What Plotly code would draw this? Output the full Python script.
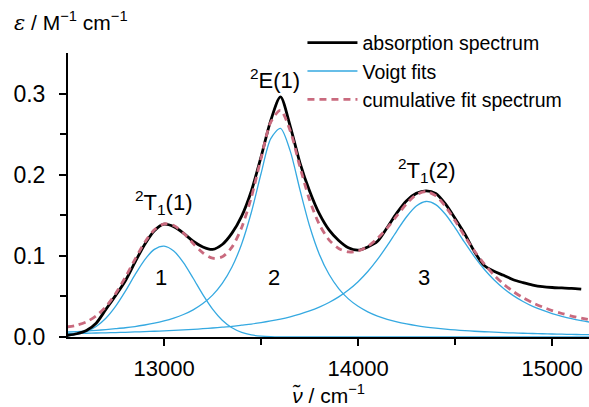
import plotly.graph_objects as go

wavenumber = [12500 + 50 * i for i in range(55)]  # 12500 .. 15200 cm-1
wavenumber_abs = [12500 + 50 * i for i in range(54)]  # 12500 .. 15150 cm-1

absorption = [
    0.002, 0.004, 0.008, 0.017, 0.034, 0.051, 0.069, 0.092, 0.114, 0.131,
    0.139, 0.136, 0.128, 0.118, 0.111, 0.108, 0.114, 0.128, 0.149, 0.180,
    0.222, 0.267, 0.296, 0.260, 0.215, 0.180, 0.152, 0.132, 0.119, 0.110,
    0.107, 0.111, 0.118, 0.135, 0.153, 0.168, 0.177, 0.180, 0.177, 0.164,
    0.146, 0.127, 0.105, 0.088, 0.081, 0.076, 0.0705, 0.067, 0.064, 0.062,
    0.061, 0.0605, 0.060, 0.059,
]

voigt1 = [
    0.0013, 0.0031, 0.0066, 0.0129, 0.0231, 0.0377, 0.0562, 0.0765, 0.0951, 0.1080,
    0.1120, 0.1060, 0.0917, 0.0724, 0.0522, 0.0344, 0.0207, 0.0114, 0.0057, 0.0026,
    0.0011, 0.0004, 0.0001, 0, 0, 0, 0, 0, 0, 0,
    0, 0, 0, 0, 0, 0, 0, 0, 0, 0,
    0, 0, 0, 0, 0, 0, 0, 0, 0, 0,
    0, 0, 0, 0, 0,
]

voigt2 = [
    0.0061, 0.0067, 0.0074, 0.0082, 0.0091, 0.0102, 0.0114, 0.0129, 0.0148, 0.0170,
    0.0198, 0.0233, 0.0277, 0.0335, 0.0412, 0.0516, 0.0660, 0.0862, 0.1147, 0.1537,
    0.2015, 0.2445, 0.2571, 0.2294, 0.1818, 0.1368, 0.1021, 0.0773, 0.0597, 0.0470,
    0.0378, 0.0310, 0.0258, 0.0218, 0.0186, 0.0161, 0.0140, 0.0123, 0.0109, 0.0097,
    0.0087, 0.0078, 0.0071, 0.0065, 0.0059, 0.0054, 0.0050, 0.0046, 0.0043, 0.0040,
    0.0037, 0.0035, 0.0032, 0.0030, 0.0028,
]

voigt3 = [
    0.0041, 0.0043, 0.0046, 0.0049, 0.0051, 0.0055, 0.0058, 0.0062, 0.0066, 0.0071,
    0.0076, 0.0081, 0.0087, 0.0094, 0.0102, 0.0111, 0.0121, 0.0132, 0.0146, 0.0160,
    0.0178, 0.0198, 0.0221, 0.0249, 0.0282, 0.0321, 0.0368, 0.0425, 0.0494, 0.0579,
    0.0682, 0.0807, 0.0956, 0.1126, 0.1309, 0.1482, 0.1614, 0.1670, 0.1632, 0.1513,
    0.1345, 0.1162, 0.0988, 0.0835, 0.0705, 0.0598, 0.0510, 0.0438, 0.0378, 0.0330,
    0.0289, 0.0255, 0.0226, 0.0202, 0.0181,
]

cumulative = [
    0.0125, 0.0145, 0.0186, 0.0260, 0.0373, 0.0534, 0.0734, 0.0956, 0.1165, 0.1321,
    0.1394, 0.1374, 0.1281, 0.1153, 0.1036, 0.0971, 0.0988, 0.1108, 0.1350, 0.1723,
    0.2204, 0.2647, 0.2793, 0.2543, 0.2100, 0.1689, 0.1389, 0.1198, 0.1091, 0.1049,
    0.1060, 0.1117, 0.1214, 0.1344, 0.1495, 0.1643, 0.1754, 0.1793, 0.1741, 0.1610,
    0.1432, 0.1240, 0.1059, 0.0900, 0.0764, 0.0652, 0.0560, 0.0484, 0.0421, 0.0370,
    0.0326, 0.0290, 0.0258, 0.0232, 0.0209,
]

state_labels = ["<sup>2</sup>T<sub>1</sub>(1)", "<sup>2</sup>E(1)", "<sup>2</sup>T<sub>1</sub>(2)"]
state_x = [12995, 13570, 14355]
state_y = [0.166, 0.318, 0.205]
band_labels = ["1", "2", "3"]
band_x = [12985, 13565, 14340]
band_y = [0.073, 0.073, 0.073]

BLUE = "#35A9E1"
PINK = "#C96A7E"
FONT = "Liberation Sans, Arial, sans-serif"

fig = go.Figure()
for i, v in enumerate([voigt1, voigt2, voigt3]):
    fig.add_trace(go.Scatter(
        x=wavenumber, y=v, mode="lines", name="Voigt fits",
        line=dict(color=BLUE, width=1.3, shape="spline", smoothing=0.8),
        showlegend=(i == 0), legendrank=2,
    ))
fig.add_trace(go.Scatter(
    x=wavenumber_abs, y=absorption, mode="lines", name="absorption spectrum",
    line=dict(color="black", width=2.8, shape="spline", smoothing=0.8),
    legendrank=1,
))
fig.add_trace(go.Scatter(
    x=wavenumber, y=cumulative, mode="lines", name="cumulative fit spectrum",
    line=dict(color=PINK, width=2.8, dash="7px,5px", shape="spline", smoothing=0.8),
    legendrank=3,
))

for t, x, y in zip(state_labels, state_x, state_y):
    fig.add_annotation(x=x, y=y, text=t, showarrow=False,
                       font=dict(size=22, color="black", family=FONT))
for t, x, y in zip(band_labels, band_x, band_y):
    fig.add_annotation(x=x, y=y, text=t, showarrow=False,
                       font=dict(size=22, color="black", family=FONT))

fig.add_annotation(
    xref="paper", yref="paper", x=-0.108, y=1.057, xanchor="left", yanchor="bottom",
    text="<span style=\"font-family:'DejaVu Serif'\"><i>ε</i></span> / M<sup>−1</sup> cm<sup>−1</sup>",
    showarrow=False, font=dict(size=21, color="black", family=FONT),
)

fig.update_layout(
    width=589, height=407,
    margin=dict(l=68, r=0, t=53, b=70, autoexpand=False),
    paper_bgcolor="white", plot_bgcolor="white",
    font=dict(family=FONT, size=20, color="black"),
    legend=dict(x=0.45, y=1.104, xanchor="left", yanchor="top",
                bgcolor="rgba(0,0,0,0)", font=dict(size=19.5, family=FONT),
                itemwidth=50, tracegroupgap=0),
    showlegend=True,
)
fig.update_xaxes(
    range=[12505, 15190], showgrid=False, zeroline=False, automargin=False,
    showline=True, linecolor="black", linewidth=2,
    ticks="outside", ticklen=7, tickwidth=2, tickcolor="black",
    tickvals=[13000, 14000, 15000], ticktext=["13000", "14000", "15000"],
    tickfont=dict(size=22), ticklabelstandoff=4,
    minor=dict(tickvals=[12500, 13500, 14500], ticks="outside", ticklen=6, tickwidth=2, tickcolor="black"),
    title=dict(text="<i>ν̃</i> / cm<sup>−1</sup>", font=dict(size=21), standoff=11),
)
fig.update_yaxes(
    range=[0, 0.35], showgrid=False, zeroline=False, automargin=False,
    showline=True, linecolor="black", linewidth=2,
    ticks="outside", ticklen=7, tickwidth=2, tickcolor="black",
    tickvals=[0, 0.1, 0.2, 0.3], ticktext=["0.0", "0.1", "0.2", "0.3"],
    tickfont=dict(size=23), ticklabelstandoff=9,
    minor=dict(tickvals=[0.05, 0.15, 0.25], ticks="outside", ticklen=6, tickwidth=2, tickcolor="black"),
)

fig.write_html("out.html", config={"displayModeBar": False},
               post_script="document.body.style.margin='0';")
